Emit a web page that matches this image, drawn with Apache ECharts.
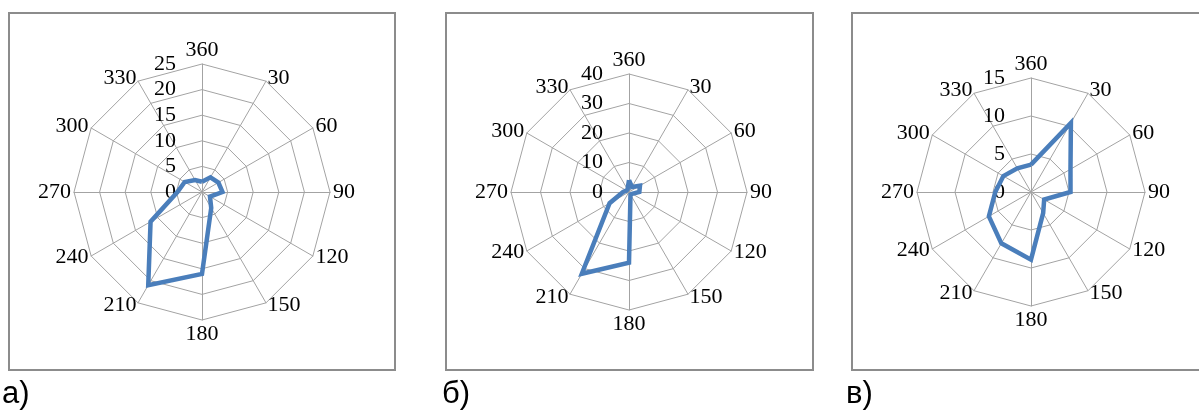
<!DOCTYPE html>
<html>
<head>
<meta charset="utf-8">
<script src="https://cdn.jsdelivr.net/npm/echarts@6/dist/echarts.min.js"></script>
<style>
  html, body { margin: 0; padding: 0; background: #fff; }
  #chart { width: 1199px; height: 418px; }
</style>
</head>
<body>
<div id="chart"></div>
<script>
// направления (по часовой стрелке от севера)
const directions = ['360', '30', '60', '90', '120', '150', '180', '210', '240', '270', '300', '330']

// значения для трёх диаграмм, в порядке directions
const valuesA = [2, 3.3, 3.7, 4, 1.8, 3.6, 16, 21, 11.6, 4.8, 3.9, 2.7]
const valuesB = [4, 2, 4.3, 3.5, 1.2, 1, 24, 32, 7.6, 2, 1, 1]
const valuesC = [3.6, 10.5, 6, 5.2, 2, 3.2, 8.9, 7.8, 6.4, 4.7, 4.2, 3.6]

// максимумы шкал и количество делений
const maxA = 25, splitA = 5
const maxB = 40, splitB = 4
const maxC = 15, splitC = 3

const panelLabels = ['а)', 'б)', 'в)']

// echarts рисует оси радара против часовой стрелки — переставляем
function clockwise(arr) {
  return [arr[0]].concat(arr.slice(1).reverse())
}

const serif = 'Liberation Serif'
const gridColor = '#a3a3a3'

function makeRadar(center, radius, max, split) {
  return {
    center: center,
    radius: radius,
    startAngle: 90,
    shape: 'polygon',
    splitNumber: split,
    indicator: clockwise(directions).map(function (d, i) {
      const ind = { name: d, min: 0, max: max }
      // подписи шкалы только на первой оси (360)
      if (i === 0) {
        ind.axisLabel = {
          show: true,
          color: '#000',
          fontFamily: serif,
          fontSize: 22,
          margin: 26,
        }
      }
      return ind
    }),
    axisName: { color: '#000', fontFamily: serif, fontSize: 22 },
    nameGap: 3,
    axisLine: { lineStyle: { color: gridColor, width: 1 } },
    splitLine: { lineStyle: { color: gridColor, width: 1 } },
    splitArea: { show: false },
    axisTick: { show: false },
  }
}

function makeSeries(idx, values) {
  return {
    type: 'radar',
    radarIndex: idx,
    symbol: 'none',
    silent: true,
    lineStyle: { color: '#4a7ebb', width: 4.5, join: 'miter' },
    data: [{ value: clockwise(values) }],
  }
}

function box(x, y, w, h) {
  return {
    type: 'rect',
    shape: { x: x, y: y, width: w, height: h },
    style: { fill: 'none', stroke: '#8c8c8c', lineWidth: 2 },
    z: -1,
  }
}

const myChart = echarts.init(document.getElementById('chart'))
const option = {
  animation: false,
  title: [
    { text: panelLabels[0], left: 2, top: 379 },
    { text: panelLabels[1], left: 442, top: 379 },
    { text: panelLabels[2], left: 846, top: 379 },
  ].map(function (t) {
    t.textStyle = { fontFamily: 'Liberation Sans', fontSize: 31, fontWeight: 'normal', color: '#000' }
    t.padding = 0
    return t
  }),
  graphic: [
    box(9, 13, 386, 357),
    box(446, 13, 367, 357),
    box(852, 13, 360, 357),
  ],
  radar: [
    makeRadar([202, 192], 128, maxA, splitA),
    makeRadar([629, 192], 118, maxB, splitB),
    makeRadar([1031, 192], 114, maxC, splitC),
  ],
  series: [
    makeSeries(0, valuesA),
    makeSeries(1, valuesB),
    makeSeries(2, valuesC),
  ],
}
myChart.setOption(option)
</script>
</body>
</html>
